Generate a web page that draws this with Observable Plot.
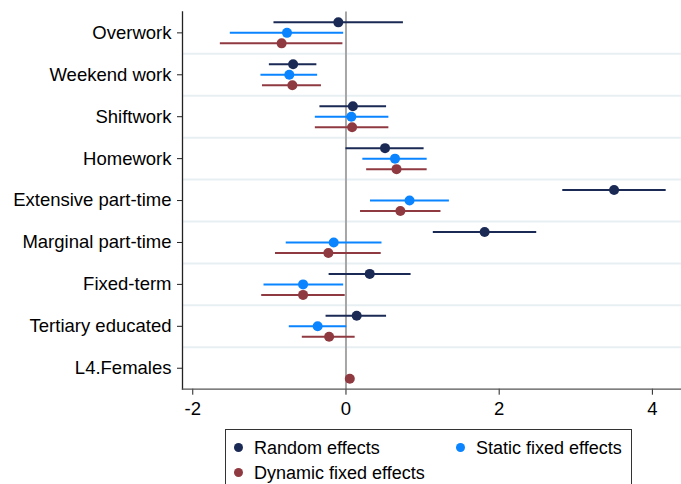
<!DOCTYPE html>
<html>
<head>
<meta charset="utf-8">
<script src="https://cdn.jsdelivr.net/npm/d3@7"></script>
<script src="https://cdn.jsdelivr.net/npm/@observablehq/plot@0.6"></script>
<style>
  html, body { margin: 0; padding: 0; background: #fff; overflow: hidden; }
  #wrap { position: relative; width: 681px; height: 484px; font-family: "Liberation Sans", Arial, sans-serif; }
  #legend { position: absolute; left: 225px; top: 429px; width: 407px; height: 70px; border: 1px solid #333; box-sizing: border-box; background: #fff; font-size: 18px; color: #000; }
  .li { position: absolute; white-space: nowrap; line-height: 20px; }
  .sw { position: absolute; width: 9px; height: 9px; border-radius: 50%; }
</style>
</head>
<body>
<div id="wrap"><div id="chart"></div><div id="legend"></div></div>
<script>
const categories = ["Overwork", "Weekend work", "Shiftwork", "Homework", "Extensive part-time", "Marginal part-time", "Fixed-term", "Tertiary educated", "L4.Females"];
const seriesNames = ["Random effects", "Static fixed effects", "Dynamic fixed effects"];
const seriesColors = ["#1b2a55", "#0a84ff", "#8f3a40"];
const xTicks = [-2, 0, 2, 4];

// Random effects
const reEst = [-0.10, -0.69, 0.09, 0.51, 3.50, 1.81, 0.31, 0.14, null];
const reLo  = [-0.94, -1.00, -0.34, 0.00, 2.83, 1.14, -0.22, -0.26, null];
const reHi  = [0.75, -0.38, 0.53, 1.02, 4.18, 2.49, 0.85, 0.53, null];
// Static fixed effects
const sfEst = [-0.77, -0.74, 0.07, 0.64, 0.83, -0.16, -0.56, -0.37, null];
const sfLo  = [-1.51, -1.11, -0.40, 0.22, 0.32, -0.78, -1.07, -0.74, null];
const sfHi  = [-0.03, -0.37, 0.56, 1.06, 1.35, 0.47, -0.03, 0.01, null];
// Dynamic fixed effects
const dfEst = [-0.84, -0.70, 0.08, 0.66, 0.71, -0.23, -0.56, -0.22, 0.05];
const dfLo  = [-1.64, -1.09, -0.40, 0.27, 0.19, -0.92, -1.10, -0.57, 0.03];
const dfHi  = [-0.04, -0.32, 0.56, 1.06, 1.24, 0.46, -0.01, 0.12, 0.07];

const ests = [reEst, sfEst, dfEst], los = [reLo, sfLo, dfLo], his = [reHi, sfHi, dfHi];
const offsets = [-10.5, 0, 10.5];

const W = 681, H = 425, mL = 182, mR = 0, mT = 11.4, mB = 36.3;
const bw = (H - mT - mB) / categories.length;

const marks = [];
// light gridlines between categories
marks.push(Plot.ruleY(categories.slice(1), {y: d => d, dy: -bw / 2, stroke: "#e8eff3", strokeWidth: 2}));
// zero line
marks.push(Plot.ruleX([0], {stroke: "#a6a6a6", strokeWidth: 2}));
seriesNames.forEach((s, i) => {
  const rows = categories.map((c, j) => ({cat: c, est: ests[i][j], lo: los[i][j], hi: his[i][j]})).filter(d => d.est != null);
  marks.push(Plot.ruleY(rows, {y: "cat", x1: "lo", x2: "hi", dy: offsets[i], stroke: seriesColors[i], strokeWidth: 2}));
  marks.push(Plot.dot(rows, {y: "cat", x: "est", dy: offsets[i], r: 5, fill: seriesColors[i], stroke: "none"}));
});
marks.push(Plot.axisY({tickSize: 5, tickPadding: 6, label: null, stroke: "#222"}));
marks.push(Plot.axisX({ticks: xTicks, tickSize: 6, tickPadding: 7, label: null, tickFormat: d => String(d), stroke: "#222"}));
marks.push(Plot.frame({anchor: "left", stroke: "#222", strokeWidth: 1.3}));
marks.push(Plot.frame({anchor: "bottom", stroke: "#555", strokeWidth: 1.3}));

const chart = Plot.plot({
  width: W, height: H,
  marginLeft: mL, marginRight: mR, marginTop: mT, marginBottom: mB,
  x: {domain: [-2.134, 4.38]},
  y: {type: "band", domain: categories, padding: 0, round: false},
  style: {fontFamily: "'Liberation Sans', Arial, sans-serif", fontSize: "18.5px", color: "#000", background: "#fff"},
  marks
});
document.getElementById("chart").appendChild(chart);

// legend
const legend = document.getElementById("legend");
const pos = [[11, 8], [233, 8], [11, 33]];
seriesNames.forEach((s, i) => {
  const sw = document.createElement("span");
  sw.className = "sw";
  sw.style.background = seriesColors[i];
  sw.style.left = (pos[i][0] - 4.5 + 1) + "px";
  sw.style.top = (pos[i][1] + 5) + "px";
  legend.appendChild(sw);
  const t = document.createElement("span");
  t.className = "li";
  t.textContent = s;
  t.style.left = (pos[i][0] + 17) + "px";
  t.style.top = pos[i][1] + "px";
  legend.appendChild(t);
});
</script>
</body>
</html>
